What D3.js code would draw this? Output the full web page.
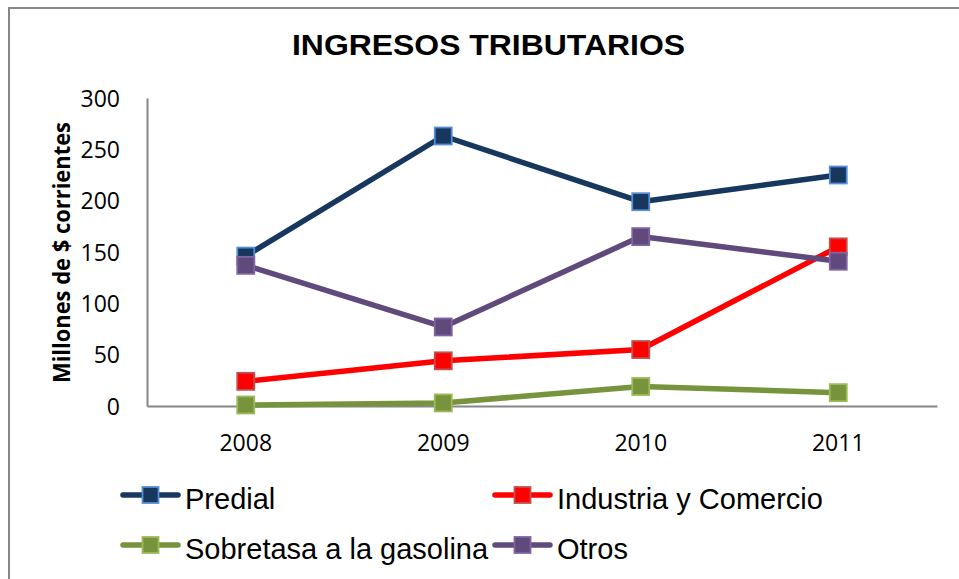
<!DOCTYPE html>
<html>
<head>
<meta charset="utf-8">
<script src="https://cdn.jsdelivr.net/npm/d3@7"></script>
<style>
  body { margin: 0; background: #fff; }
</style>
</head>
<body>
<div id="chart"></div>
<script>
var years = ["2008", "2009", "2010", "2011"];
var yTicks = [0, 50, 100, 150, 200, 250, 300];
var predial = [146, 263, 199, 225];
var industria = [24, 44, 55, 155];
var sobretasa = [1, 3, 19, 13];
var otros = [137, 77, 165, 141];

var series = [
    {name: "Predial", values: predial, color: "#17375e", edge: "#558ed5"},
    {name: "Industria y Comercio", values: industria, color: "#ff0000", edge: "#c0504d"},
    {name: "Sobretasa a la gasolina", values: sobretasa, color: "#77933c", edge: "#9bbb59"},
    {name: "Otros", values: otros, color: "#604a7b", edge: "#8064a2"}
];

var svg = d3.select("#chart")
            .append("svg")
            .attr("width", 959)
            .attr("height", 579);

// outer frame
svg.append("rect")
    .attr("x", 9)
    .attr("y", 8)
    .attr("width", 1000)
    .attr("height", 1000)
    .attr("fill", "none")
    .attr("stroke", "#868686")
    .attr("stroke-width", 2);

// title
svg.append("text")
    .attr("x", 488.5)
    .attr("y", 55)
    .attr("text-anchor", "middle")
    .attr("textLength", 393)
    .attr("lengthAdjust", "spacingAndGlyphs")
    .style("font-family", "'Liberation Sans', Arial, sans-serif")
    .style("font-weight", "bold")
    .style("font-size", "29px")
    .text("INGRESOS TRIBUTARIOS");

var x = d3.scaleBand()
            .domain(years)
            .range([147, 937]);

var y = d3.scaleLinear()
            .domain([0, 300])
            .range([406, 98]);

// axes
var yAxis = svg.append("g")
    .attr("transform", "translate(147,0)")
    .call(d3.axisLeft(y).tickValues(yTicks).tickSize(0).tickPadding(27));
yAxis.select(".domain").attr("stroke", "#868686").attr("stroke-width", 2);
yAxis.selectAll("text")
    .attr("dy", "0.36em")
    .style("font-family", "'Open Sans', sans-serif")
    .style("font-size", "23px")
    .attr("fill", "#000");

var xAxis = svg.append("g")
    .attr("transform", "translate(0,406)")
    .call(d3.axisBottom(x).tickSize(0).tickPadding(0));
xAxis.select(".domain").attr("stroke", "#868686").attr("stroke-width", 2);
xAxis.selectAll("text")
    .attr("dy", null)
    .attr("y", 45)
    .style("font-family", "'Open Sans', sans-serif")
    .style("font-size", "23px")
    .attr("fill", "#000");

// y label
svg.append("text")
    .attr("transform", "translate(70,252.5)rotate(-90)")
    .attr("text-anchor", "middle")
    .attr("textLength", 261)
    .attr("lengthAdjust", "spacingAndGlyphs")
    .style("font-family", "'Open Sans', sans-serif")
    .style("font-weight", "bold")
    .style("font-size", "23px")
    .text("Millones de $ corrientes");

var line = d3.line()
    .x(function(d, i) { return x(years[i]) + x.bandwidth() / 2; })
    .y(function(d) { return y(d); });

var ms = 17;

series.forEach(function(s) {
    var g = svg.append("g");
    g.append("path")
        .attr("d", line(s.values))
        .attr("fill", "none")
        .attr("stroke", s.color)
        .attr("stroke-width", 5.5)
        .attr("stroke-linejoin", "round");
    g.selectAll("rect")
        .data(s.values)
        .enter()
        .append("rect")
        .attr("x", function(d, i) { return x(years[i]) + x.bandwidth() / 2 - ms / 2; })
        .attr("y", function(d) { return y(d) - ms / 2; })
        .attr("width", ms)
        .attr("height", ms)
        .attr("fill", s.color)
        .attr("stroke", s.edge)
        .attr("stroke-width", 1.8);
});

// legend
var legPos = [
    {lx: 123, ty: 495},
    {lx: 495, ty: 495},
    {lx: 123, ty: 545},
    {lx: 495, ty: 545}
];

series.forEach(function(s, i) {
    var p = legPos[i];
    var g = svg.append("g");
    g.append("line")
        .attr("x1", p.lx)
        .attr("x2", p.lx + 55)
        .attr("y1", p.ty)
        .attr("y2", p.ty)
        .attr("stroke", s.color)
        .attr("stroke-width", 5.5)
        .attr("stroke-linecap", "round");
    g.append("rect")
        .attr("x", p.lx + 27.5 - 8)
        .attr("y", p.ty - 8)
        .attr("width", 16)
        .attr("height", 16)
        .attr("fill", s.color)
        .attr("stroke", s.edge)
        .attr("stroke-width", 1.8);
    g.append("text")
        .attr("x", p.lx + 62)
        .attr("y", p.ty + 14)
        .style("font-family", "'Liberation Sans', Arial, sans-serif")
        .style("font-size", "29px")
        .text(s.name);
});
</script>
</body>
</html>
